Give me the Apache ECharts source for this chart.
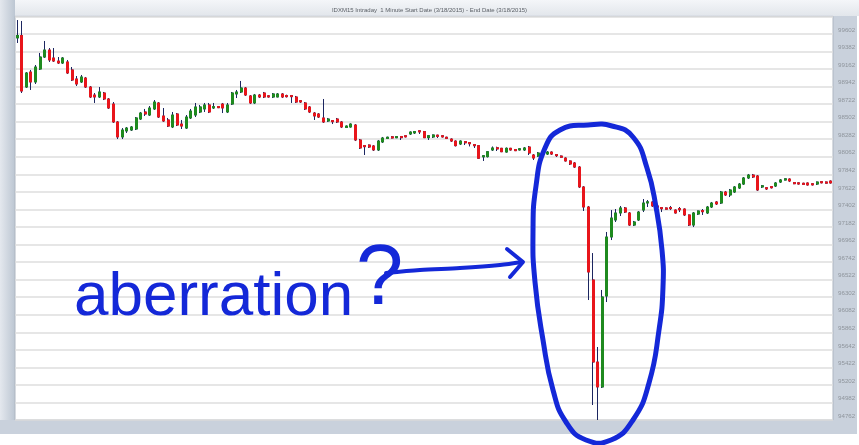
<!DOCTYPE html>
<html><head><meta charset="utf-8">
<script src="https://cdn.jsdelivr.net/npm/echarts/dist/echarts.min.js"></script>
<style>html,body{margin:0;padding:0;background:#fff}#c{width:859px;height:445px}</style>
</head><body><div id="c"></div>
<script>
const titleText = 'IDXM15 Intraday  1 Minute Start Date (3/18/2015) - End Date (3/18/2015)';
const yTicks = [99602,99382,99162,98942,98722,98502,98282,98062,97842,97622,97402,97182,96962,96742,96522,96302,96082,95862,95642,95422,95202,94982,94762];
const yMin = 94762, yMax = 99822, yStep = 220;

const opens = [
99551,99582,98936,99124,98999,99162,99312,99400,99300,99262,
99237,99250,99150,99037,98999,99049,98936,98836,98811,98861,
98786,98723,98498,98310,98385,98397,98410,98535,98623,98585,
98661,98736,98573,98523,98435,98598,98472,98422,98548,98585,
98623,98661,98711,98673,98692,98723,98623,98723,98849,98874,
98924,98824,98736,98836,98861,98826,98811,98811,98849,98830,
98830,98811,98765,98736,98686,98610,98598,98548,98510,98516,
98535,98498,98429,98435,98460,98272,98203,98209,98197,98147,
98247,98291,98312,98300,98316,98326,98347,98360,98388,98378,
98301,98310,98333,98326,98307,98284,98259,98222,98252,98240,
98215,98201,98060,98063,98147,98175,98168,98121,98168,98153,
98147,98147,98184,98084,98071,98113,98096,98121,98090,98071,
98046,98009,97984,97933,97683,97432,96517,95489,95176,96316,
97056,97269,97357,97420,97357,97206,97269,97394,97482,97495,
97445,97425,97420,97426,97394,97412,97407,97332,97206,97344,
97388,97357,97432,97495,97482,97620,97583,97620,97670,97720,
97796,97833,97821,97683,97674,97688,97695,97745,97770,97783,
97739,97735,97730,97733,97724,97720,97750,97746,97758];
const closes = [
99582,98886,99112,98999,99187,99312,99400,99275,99262,99237,
99300,99112,99024,98974,99062,98936,98811,98811,98874,98786,
98673,98498,98310,98397,98422,98435,98548,98610,98598,98673,
98748,98560,98510,98447,98585,98460,98447,98560,98635,98686,
98686,98711,98623,98690,98677,98673,98711,98861,98874,98924,
98836,98736,98836,98811,98811,98811,98849,98849,98811,98815,
98815,98748,98748,98661,98623,98573,98560,98498,98535,98501,
98498,98435,98447,98472,98272,98172,98188,98184,98147,98259,
98297,98307,98297,98315,98301,98311,98372,98378,98373,98301,
98326,98335,98318,98310,98292,98259,98201,98259,98237,98225,
98200,98043,98075,98125,98172,98160,98125,98168,98147,98138,
98162,98172,98109,98046,98109,98098,98121,98096,98075,98056,
98009,97971,97933,97683,97432,96617,95489,95176,96304,97056,
97294,97357,97420,97369,97206,97244,97369,97482,97497,97445,
97430,97410,97405,97411,97357,97397,97332,97206,97357,97382,
97373,97432,97482,97470,97620,97583,97645,97683,97720,97796,
97833,97808,97645,97698,97658,97673,97733,97771,97785,97758,
97724,97720,97715,97708,97709,97745,97735,97731,97733];
const lows = [
99488,98861,98924,98899,98974,99150,99300,99250,99250,99225,
99225,99099,99012,98949,98987,98924,98798,98736,98798,98773,
98661,98485,98284,98284,98360,98385,98397,98523,98573,98573,
98648,98548,98498,98435,98422,98447,98410,98410,98535,98560,
98610,98623,98610,98661,98673,98610,98610,98711,98798,98861,
98824,98723,98723,98798,98798,98805,98798,98811,98798,98805,
98736,98736,98736,98648,98610,98523,98548,98485,98498,98472,
98485,98422,98422,98429,98259,98159,98084,98172,98134,98134,
98234,98284,98290,98297,98272,98306,98335,98347,98347,98297,
98272,98297,98297,98305,98284,98247,98191,98209,98209,98191,
98172,98034,98009,98053,98134,98134,98121,98115,98140,98134,
98143,98134,98084,98021,98059,98094,98084,98084,98059,98050,
98003,97959,97921,97670,97382,96266,94950,94762,95163,96241,
97018,97244,97319,97357,97194,97194,97257,97369,97432,97432,
97369,97369,97400,97394,97350,97369,97319,97194,97181,97332,
97332,97344,97420,97457,97470,97570,97557,97608,97658,97708,
97783,97796,97633,97670,97645,97665,97683,97733,97765,97745,
97718,97714,97709,97702,97703,97708,97730,97726,97727];
const highs = [
99776,99764,99124,99150,99212,99363,99513,99425,99425,99312,
99312,99275,99187,99074,99087,99062,98949,98861,98936,98874,
98798,98748,98510,98422,98435,98447,98560,98623,98661,98698,
98773,98748,98673,98548,98623,98610,98523,98585,98661,98736,
98711,98736,98736,98736,98698,98736,98736,98874,98899,99012,
98936,98836,98849,98849,98874,98836,98861,98861,98861,98840,
98836,98824,98773,98748,98698,98623,98610,98786,98548,98522,
98548,98510,98453,98479,98472,98284,98209,98216,98209,98272,
98310,98312,98322,98320,98320,98330,98378,98385,98392,98385,
98335,98341,98337,98330,98312,98291,98266,98266,98256,98244,
98222,98209,98078,98134,98191,98188,98172,98178,98172,98157,
98166,98184,98197,98096,98121,98117,98134,98128,98094,98078,
98053,98015,97996,97946,97695,97445,96855,95677,96392,97119,
97394,97407,97445,97432,97369,97257,97382,97532,97520,97507,
97451,97430,97426,97445,97401,97432,97413,97338,97369,97388,
97407,97445,97495,97507,97633,97633,97658,97695,97733,97808,
97846,97846,97833,97708,97680,97695,97745,97783,97790,97790,
97743,97740,97735,97739,97729,97752,97755,97752,97764];

const categories = opens.map((_, i) => String(i + 1));

const NAVY = '#1c2660', RED = '#e8151b', GREEN = '#1f8a1f', BLUE = '#1428d8';
const wickData = opens.map((o, i) => [o, closes[i], lows[i], highs[i]]);
const bodyData = opens.map((o, i) => [o, closes[i], Math.min(o, closes[i]), Math.max(o, closes[i])]);

const ellipsePts = [[588,125],[612,126],[633,137],[647,168],[656,207],[662,250],[663,287],[659,330],[649,383],[633,420],[611,440],[586,440],[566,422],[553,390],[543,340],[535,282],[533,232],[536,186],[545,148],[560,130]];

const chart = echarts.init(document.getElementById('c'), null, {renderer: 'canvas'});
chart.setOption({
  animation: false,
  backgroundColor: '#ffffff',
  title: {text: titleText, left: 'center', top: 2.5, textStyle: {fontSize: 6, fontWeight: 'normal', color: '#5a5f66', fontFamily: 'Liberation Sans'}},
  grid: {left: 15, right: 26, top: 16.35, bottom: 25, show: true, backgroundColor: '#ffffff', borderColor: '#aeb6c1', borderWidth: 1, outerBoundsMode: 'none'},
  xAxis: {type: 'category', data: categories, boundaryGap: true, axisLine: {show: false}, axisTick: {show: false}, axisLabel: {show: false}, splitLine: {show: false}},
  yAxis: {type: 'value', position: 'right', min: yMin, max: yMax, interval: yStep, scale: true,
    axisLine: {show: false}, axisTick: {show: false},
    splitLine: {show: true, lineStyle: {color: '#dedede', width: 1.5}},
    axisLabel: {margin: 5, fontSize: 6.2, color: '#8f959c', fontFamily: 'Liberation Sans', verticalAlign: 'bottom', padding: [0,0,1,0],
      formatter: v => yTicks.includes(v) ? String(v) : ''}},
  series: [
    {type: 'candlestick', data: wickData, barWidth: 2.5, silent: true,
      itemStyle: {color: NAVY, color0: NAVY, borderColor: NAVY, borderColor0: NAVY, borderWidth: 1}},
    {type: 'candlestick', data: bodyData, barWidth: 2.5, silent: true,
      itemStyle: {color: GREEN, color0: RED, borderColor: GREEN, borderColor0: RED, borderWidth: 1}}
  ],
  graphic: [
    {type: 'rect', z: -1, silent: true, shape: {x: 0, y: 0, width: 859, height: 16},
      style: {fill: {type: 'linear', x: 0, y: 0, x2: 0, y2: 1, colorStops: [{offset: 0, color: '#f4f6f9'}, {offset: 1, color: '#e2e6eb'}]}}},
    {type: 'rect', z: -1, silent: true, shape: {x: 0, y: 0, width: 15, height: 434},
      style: {fill: {type: 'linear', x: 0, y: 0, x2: 1, y2: 0, colorStops: [{offset: 0, color: '#e4e8ee'}, {offset: 1, color: '#bcc6d2'}]}}},
    {type: 'rect', z: -1, silent: true, shape: {x: 833, y: 16, width: 24, height: 418}, style: {fill: '#c9d1dc'}},
    {type: 'rect', z: -1, silent: true, shape: {x: 0, y: 420, width: 857, height: 14}, style: {fill: '#c9d1dc'}},
    {type: 'text', z: 100, silent: true, style: {text: 'aberration', x: 74, y: 298, fontSize: 62, fontFamily: 'Liberation Sans', fill: BLUE, verticalAlign: 'middle'}},
    {type: 'text', z: 100, silent: true, style: {text: '?', x: 356, y: 281, fontSize: 85, fontFamily: 'Liberation Sans', fill: BLUE, verticalAlign: 'middle'}},
    {type: 'polyline', z: 100, silent: true, shape: {points: [[386,273],[420,270],[460,268],[500,265],[522,262]], smooth: 0.3},
      style: {stroke: BLUE, lineWidth: 4, lineCap: 'round', fill: null}},
    {type: 'polyline', z: 100, silent: true, shape: {points: [[507,249],[523,262],[510,277]]},
      style: {stroke: BLUE, lineWidth: 4, lineCap: 'round', lineJoin: 'round', fill: null}},
    {type: 'polygon', z: 100, silent: true, shape: {points: ellipsePts, smooth: 0.5},
      style: {stroke: BLUE, lineWidth: 5, fill: null}}
  ]
});
</script></body></html>
